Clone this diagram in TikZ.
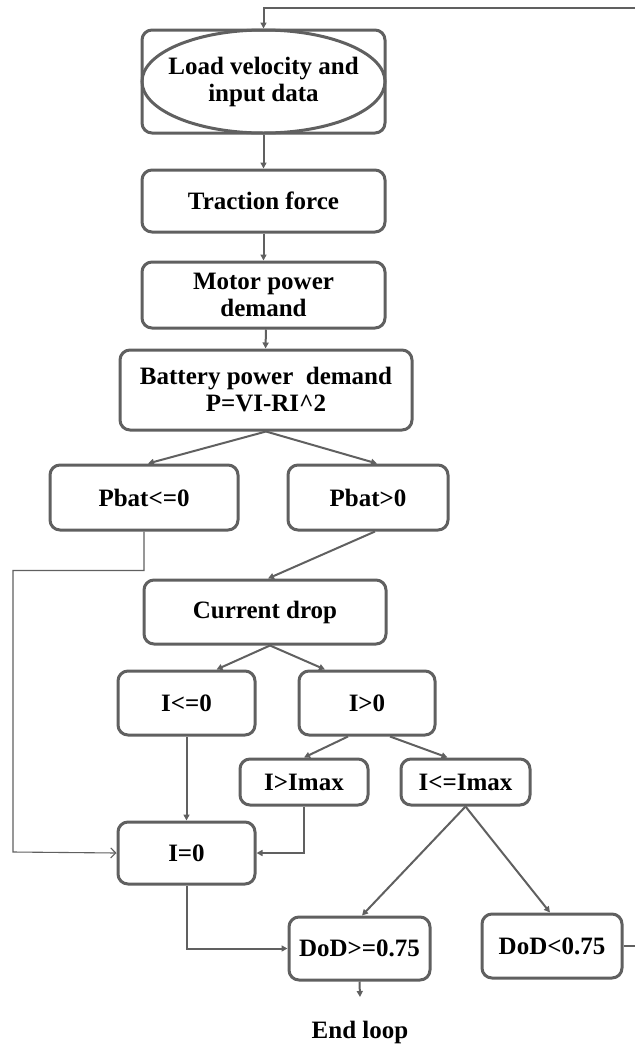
\documentclass[tikz,border=0pt]{standalone}
\usepackage{fontspec}
\setmainfont{Liberation Serif}
\usetikzlibrary{arrows.meta,calc}
\definecolor{lc}{HTML}{606060}
\begin{document}
\begin{tikzpicture}[x=1pt,y=-1pt,
  box/.style={draw=lc,line width=3pt,rounded corners=10pt,inner sep=0pt,align=center,
    font=\bfseries\fontsize{25}{27}\selectfont},
  conn/.style={draw=lc,line width=2pt,-{Triangle[length=6pt,width=6pt]}},
  thin/.style={draw=lc,line width=1.1pt,-{Straight Barb[length=5pt,width=10pt]}}]
\useasboundingbox (0,0) rectangle (635,1045);
\node[box,minimum width=243pt,minimum height=103pt] (load) at (263.5,81.5) {Load velocity and\\input data};
\draw[lc,line width=3pt] (load.center) ellipse [x radius=121.5pt, y radius=51.5pt];
\node[box,minimum width=243pt,minimum height=62pt] (traction) at (263.5,201) {Traction force};
\node[box,minimum width=243pt,minimum height=66pt] (motor) at (263.5,295) {Motor power\\demand};
\node[box,minimum width=292pt,minimum height=80pt] (battery) at (266,390) {Battery power~ demand\\P=VI-RI\^{}2};
\node[box,minimum width=188pt,minimum height=65pt] (pbatle) at (144,497.5) {Pbat<=0};
\node[box,minimum width=160pt,minimum height=65pt] (pbatgt) at (368,497.5) {Pbat>0};
\node[box,minimum width=242pt,minimum height=64pt] (current) at (265,612) {Current drop};
\node[box,minimum width=137pt,minimum height=64pt] (ile) at (186.5,703) {I<=0};
\node[box,minimum width=136pt,minimum height=64pt] (igt) at (367,703) {I>0};
\node[box,minimum width=128pt,minimum height=46pt] (igtmax) at (304,782) {I>Imax};
\node[box,minimum width=129pt,minimum height=46pt] (ilemax) at (465.5,782) {I<=Imax};
\node[box,minimum width=137pt,minimum height=62pt] (izero) at (186.5,853) {I=0};
\node[box,minimum width=141pt,minimum height=63pt] (dodge) at (359.5,948.5) {DoD>=0.75};
\node[box,minimum width=140pt,minimum height=64pt] (dodlt) at (552,946) {DoD<0.75};
\node[font=\bfseries\fontsize{25}{27}\selectfont,inner sep=0pt] (end) at (360,1032) {End loop};
% loop back
\coordinate (r1) at (640,946);
\coordinate (r2) at (640,8);
\coordinate (endtip) at (360,997);
\draw[conn] (dodlt.east) -- (r1) -- (r2) -| (load.north);
\draw[conn] (load.south) -- (traction.north);
\draw[conn] (traction.south) -- (motor.north);
\draw[conn] ([xshift=2.5pt]motor.south) -- ([xshift=-0.5pt]battery.north);
\draw[conn] (battery.south) -- ([xshift=4pt]pbatle.north);
\draw[conn] (battery.south) -- ([xshift=9pt]pbatgt.north);
\draw[thin] (pbatle.south) -- ++(0,39) -| (13,852) -- (izero.west);
\draw[conn] ([xshift=7pt]pbatgt.south) -- ([xshift=3pt]current.north);
\draw[conn] ([xshift=5pt]current.south) -- ([xshift=30pt]ile.north);
\draw[conn] ([xshift=5pt]current.south) -- ([xshift=-42pt]igt.north);
\draw[conn] (ile.south) -- (izero.north);
\draw[conn] ([xshift=-19pt]igt.south) -- (igtmax.north);
\draw[conn] ([xshift=23pt]igt.south) -- ([xshift=-18pt]ilemax.north);
\draw[conn] (igtmax.south) |- (izero.east);
\draw[conn] (ilemax.south) -- ([xshift=2.5pt]dodge.north);
\draw[conn] (ilemax.south) -- ([xshift=-2pt]dodlt.north);
\draw[conn] (izero.south) |- (dodge.west);
\draw[conn] (dodge.south) -- (endtip);
\end{tikzpicture}
\end{document}
